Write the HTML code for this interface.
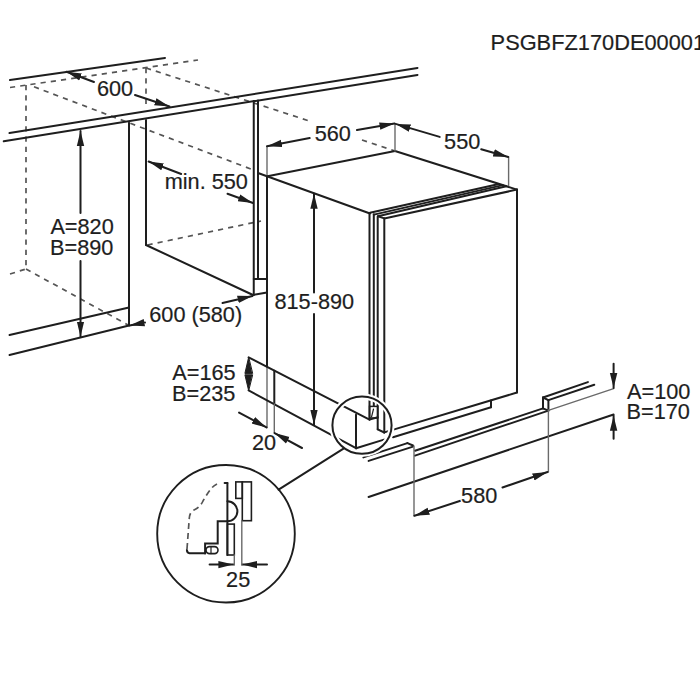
<!DOCTYPE html>
<html><head><meta charset="utf-8">
<style>
html,body{margin:0;padding:0;background:#fff;width:700px;height:700px;overflow:hidden}
svg{display:block}
text{font-family:"Liberation Sans",sans-serif;}
text.h{fill:#fff;stroke:#fff;stroke-width:3px;stroke-linejoin:round}
text.k{fill:#1e1e1e;stroke:#1e1e1e;stroke-width:0.2px}
.l line,.l path,.l polyline,.l circle,.l rect{stroke:#1e1e1e;stroke-width:2.0;fill:none;stroke-linecap:round}
.l .d{stroke:#555;stroke-width:1.7;stroke-dasharray:5.2 5.1;stroke-linecap:butt}
.l .e{stroke:#6a6a6a;stroke-width:1.4}
.l .a{stroke-width:2.0;marker-end:url(#ah)}
</style></head>
<body>
<svg width="700" height="700" viewBox="0 0 700 700">
<defs>
<marker id="ah" markerUnits="userSpaceOnUse" markerWidth="17" markerHeight="10" refX="15" refY="5" orient="auto">
<path d="M0,1.3 L15,5 L0,8.7 Z" fill="#1e1e1e"/>
</marker>
</defs>
<g class="l">
<!-- back worktop and dashed hidden lines -->
<line x1="10" y1="80" x2="165" y2="58"/>
<line class="d" x1="10" y1="87.5" x2="198" y2="60"/>
<line class="d" x1="26" y1="85" x2="26" y2="269"/>
<line class="d" x1="10" y1="274" x2="26" y2="269"/>
<line class="d" x1="26" y1="269" x2="129" y2="325.5"/>
<line class="d" x1="34" y1="86.8" x2="253" y2="169.8"/>
<line class="d" x1="146" y1="68" x2="146" y2="108.5"/>
<line class="d" x1="146" y1="68" x2="311" y2="121.5"/>
<line class="d" x1="362" y1="140" x2="395" y2="151"/>
<line class="d" x1="147.5" y1="245" x2="261" y2="221"/>
<!-- front worktop -->
<line x1="9.5" y1="133" x2="417.5" y2="68"/>
<line x1="3.75" y1="141.25" x2="417.5" y2="75"/>
<!-- cabinet -->
<line x1="129" y1="122.5" x2="129" y2="325.5"/>
<line x1="146" y1="120" x2="146" y2="245"/>
<line x1="146" y1="245" x2="253" y2="295"/>
<line x1="9.5" y1="335" x2="129" y2="307.5"/>
<line x1="9.5" y1="355" x2="129" y2="325.5"/>
<!-- panel -->
<line x1="253.75" y1="101" x2="253.75" y2="295"/>
<line x1="258" y1="100.5" x2="258" y2="279"/>
<line x1="253.75" y1="279" x2="266" y2="279"/>
<line x1="253" y1="295" x2="267" y2="292.5"/>
<!-- appliance body -->
<line x1="258" y1="173" x2="370" y2="213.5"/>
<line x1="267.5" y1="176.25" x2="395" y2="151"/>
<line x1="395" y1="151" x2="517" y2="189.6"/>
<line class="e" x1="267" y1="146.3" x2="267" y2="176"/>
<line x1="267" y1="176" x2="267" y2="366.5"/>
<line class="e" x1="267" y1="366.5" x2="267" y2="427.5"/>
<line class="e" x1="395" y1="123.5" x2="395" y2="151"/>
<line class="e" x1="508.6" y1="157" x2="508.6" y2="185.5"/>
<!-- door -->
<line x1="370" y1="212.8" x2="499" y2="184"/>
<line x1="374" y1="214.6" x2="502.8" y2="185.1"/>
<line x1="378" y1="216.3" x2="506.3" y2="186.2"/>
<line x1="378" y1="216.3" x2="384.3" y2="218.4"/>
<line x1="384.3" y1="218.4" x2="517" y2="189.6"/>
<line x1="369.5" y1="213.5" x2="369.5" y2="419.6"/>
<line x1="373.8" y1="214.3" x2="373.8" y2="406"/>
<line x1="377.7" y1="216.4" x2="377.7" y2="429.3"/>
<line x1="384.3" y1="218.6" x2="384.3" y2="432.5"/>
<line x1="517" y1="189.6" x2="517" y2="392.5"/>
<line x1="517" y1="392.5" x2="384.3" y2="432.4"/>
<line x1="377.7" y1="429.3" x2="384.3" y2="432.5"/>
<rect x="369.5" y="406.4" width="8.2" height="11.6" style="stroke-width:1.5"/>
<line x1="371.5" y1="417" x2="373.5" y2="409" style="stroke-width:1.1"/>
<line x1="491" y1="400.5" x2="491" y2="407.3"/>
<line x1="491" y1="407.3" x2="393" y2="437.2"/>
<!-- plinth -->
<line x1="248.6" y1="357.4" x2="369.5" y2="419.6"/>
<line x1="369.5" y1="419.6" x2="377.7" y2="417.3"/>
<line x1="248.6" y1="390.4" x2="356" y2="448.2"/>

<line x1="356" y1="414.5" x2="356" y2="448.2"/>
<line x1="356" y1="448.2" x2="384" y2="439.6"/>
<line x1="274.3" y1="370.7" x2="274.3" y2="404"/>
<line class="e" x1="274.3" y1="404" x2="274.3" y2="433"/>
<!-- floor -->
<line x1="363.4" y1="457.4" x2="407.4" y2="443.1"/>
<line x1="407.4" y1="443.1" x2="413" y2="445.5"/>
<line x1="368.6" y1="460.9" x2="413" y2="446.6"/>
<line x1="415" y1="450.8" x2="543" y2="408.4"/>
<line x1="415" y1="455.6" x2="548.4" y2="410.6"/>
<line x1="543" y1="397.5" x2="543" y2="408.4"/>
<line x1="543" y1="408.4" x2="548.4" y2="410.6"/>
<line x1="548.4" y1="400.1" x2="548.4" y2="410.6"/>
<line x1="543" y1="397.5" x2="548.4" y2="400.1"/>
<line x1="543" y1="397.5" x2="587.9" y2="382.1"/>
<line x1="548.4" y1="400.1" x2="594.3" y2="384.7"/>
<line class="e" x1="548.4" y1="410.3" x2="613.6" y2="388.6"/>
<line x1="368.6" y1="497" x2="613.6" y2="414.5"/>
<line class="e" x1="414" y1="446" x2="414" y2="516"/>
<line class="e" x1="548.4" y1="410" x2="548.4" y2="472"/>
<!-- dimension arrows -->
<line class="a" x1="94" y1="82" x2="66.5" y2="71.8"/>
<line class="a" x1="135" y1="95" x2="169.5" y2="106.5"/>
<line class="a" x1="309.7" y1="138.1" x2="267" y2="146.3"/>
<line class="a" x1="357" y1="130" x2="394.5" y2="123.6"/>
<line class="a" x1="439.7" y1="136.9" x2="395.6" y2="123.9"/>
<line class="a" x1="481.2" y1="149.2" x2="508.2" y2="157"/>
<line class="a" x1="181.2" y1="174" x2="148.6" y2="161.5"/>
<line class="a" x1="227.5" y1="193.75" x2="253" y2="203"/>
<line class="a" x1="80.5" y1="213" x2="80.5" y2="131"/>
<line class="a" x1="80.5" y1="261" x2="80.5" y2="336.5"/>
<line class="a" x1="145" y1="322.6" x2="129.6" y2="325.4"/>
<line class="a" x1="222.5" y1="303" x2="252.5" y2="296"/>
<line class="a" x1="314" y1="292.5" x2="314" y2="193.8"/>
<line class="a" x1="314" y1="314" x2="314" y2="424.8"/>
<path d="M248.6,357.4 L244.9,373.4 L252.3,373.4 Z M248.6,390.4 L244.9,374.8 L252.3,374.8 Z" style="fill:#1e1e1e;stroke-width:1"/>
<line class="a" x1="239.1" y1="412.6" x2="266.5" y2="427.4"/>
<line class="a" x1="302" y1="448" x2="274.6" y2="433.1"/>
<line class="a" x1="613.6" y1="363.75" x2="613.6" y2="388"/>
<line class="a" x1="613.6" y1="438.75" x2="613.6" y2="415.7"/>
<line class="a" x1="502.5" y1="487.5" x2="547.5" y2="472"/>
<line class="a" x1="460.5" y1="500.8" x2="414.5" y2="515.8"/>
<line class="a" x1="209.6" y1="564.6" x2="233.4" y2="564.6"/>
<line class="a" x1="267" y1="564.6" x2="242.2" y2="564.6"/>
<!-- small circle -->
<ellipse cx="362" cy="425.2" rx="29.6" ry="28.6" style="stroke:#fff;stroke-width:6;fill:none"/>
<ellipse cx="362" cy="425.2" rx="29.6" ry="28.6" style="stroke:#1e1e1e;stroke-width:2;fill:none"/>
<line x1="278.6" y1="489.6" x2="343.5" y2="448.7"/>
<!-- big circle -->
<circle cx="226" cy="533.75" r="68.8" style="stroke-width:1.9"/>
<rect x="242.3" y="481.9" width="9.1" height="38.8" style="stroke-width:1.6"/>
<rect x="235.8" y="481.9" width="6.5" height="16.5" style="stroke-width:1.6"/>
<line class="e" x1="241.8" y1="520.7" x2="241.8" y2="565"/>
<line x1="227.4" y1="483" x2="227.4" y2="555"/>
<line x1="224.6" y1="483" x2="227.4" y2="483"/>
<path d="M227.4,501.3 A10,10 0 0 1 227.4,521.3"/>
<polyline points="227.4,521.3 217.7,521.3 217.7,543.6 205.1,543.6 205.1,553.6"/>
<rect x="227.4" y="524.1" width="6.9" height="30.9" style="stroke-width:1.6"/>
<rect x="206" y="546.6" width="12" height="7" rx="3.5" style="stroke-width:1.6"/>
<line x1="211" y1="546.6" x2="211" y2="553.6" style="stroke-width:1.2"/>
<path d="M186.9,550 Q187,553 189.5,553.2 L205.1,553.2"/>
<line class="e" x1="234.3" y1="555" x2="234.3" y2="565"/>
<path class="d" d="M187,549 L189.3,518 Q189.8,512 194,510 Q200,507.5 203,501 Q207,494 210.5,489.5 Q213,486 217,484" style="stroke-dasharray:6 4"/>

</g>
<text class="h" x="490.6" y="49.8" style="font-size:21.8px">PSGBFZ170DE00001</text>
<text class="h" x="96.9" y="96" style="font-size:21.7px">600</text>
<text class="h" x="314.7" y="140.7" style="font-size:21.7px">560</text>
<text class="h" x="444.1" y="149" style="font-size:21.7px">550</text>
<text class="h" x="164.7" y="189.3" style="font-size:21.7px">min. 550</text>
<text class="h" x="50.4" y="233.8" style="font-size:21.7px">A=820</text>
<text class="h" x="50.0" y="254.8" style="font-size:21.7px">B=890</text>
<text class="h" x="274.5" y="309.3" style="font-size:21.7px">815-890</text>
<text class="h" x="149.3" y="321.7" style="font-size:21.7px">600 (580)</text>
<text class="h" x="172.3" y="380" style="font-size:21.7px">A=165</text>
<text class="h" x="172.0" y="401" style="font-size:21.7px">B=235</text>
<text class="h" x="252" y="449.6" style="font-size:21.7px">20</text>
<text class="h" x="627" y="398.5" style="font-size:21.7px">A=100</text>
<text class="h" x="626.6" y="419.3" style="font-size:21.7px">B=170</text>
<text class="h" x="461.1" y="503" style="font-size:21.7px">580</text>
<text class="h" x="226.1" y="587.2" style="font-size:21.7px">25</text>
<text class="k" x="490.6" y="49.8" style="font-size:21.8px">PSGBFZ170DE00001</text>
<text class="k" x="96.9" y="96" style="font-size:21.7px">600</text>
<text class="k" x="314.7" y="140.7" style="font-size:21.7px">560</text>
<text class="k" x="444.1" y="149" style="font-size:21.7px">550</text>
<text class="k" x="164.7" y="189.3" style="font-size:21.7px">min. 550</text>
<text class="k" x="50.4" y="233.8" style="font-size:21.7px">A=820</text>
<text class="k" x="50.0" y="254.8" style="font-size:21.7px">B=890</text>
<text class="k" x="274.5" y="309.3" style="font-size:21.7px">815-890</text>
<text class="k" x="149.3" y="321.7" style="font-size:21.7px">600 (580)</text>
<text class="k" x="172.3" y="380" style="font-size:21.7px">A=165</text>
<text class="k" x="172.0" y="401" style="font-size:21.7px">B=235</text>
<text class="k" x="252" y="449.6" style="font-size:21.7px">20</text>
<text class="k" x="627" y="398.5" style="font-size:21.7px">A=100</text>
<text class="k" x="626.6" y="419.3" style="font-size:21.7px">B=170</text>
<text class="k" x="461.1" y="503" style="font-size:21.7px">580</text>
<text class="k" x="226.1" y="587.2" style="font-size:21.7px">25</text>
</svg>
</body></html>
